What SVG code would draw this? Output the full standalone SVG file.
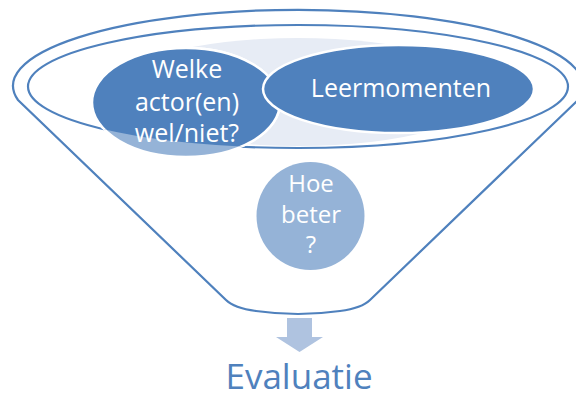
<svg xmlns="http://www.w3.org/2000/svg" width="576" height="401" viewBox="0 0 576 401">
<style>
.line{fill:none;stroke:#4f81bd;stroke-width:2.2}
.dark{fill:#4f81bd}
.lite{fill:#95b3d7}
.edge{stroke:#ffffff;stroke-width:2.5}
.lbl{font-family:"Open Sans","Liberation Sans",sans-serif;fill:#ffffff;text-anchor:middle}
</style>
<defs>
<clipPath id="inner"><ellipse cx="298" cy="86.5" rx="270" ry="61.5"/></clipPath>
</defs>
<rect width="576" height="401" fill="#ffffff"/>
<g id="funnel">
<path class="line" d="M18,100 A285,76 0 1,1 578,100 L370,300 Q362,308 340,311 Q298,317 256,311 Q234,308 226,300 Z"/>
<ellipse cx="298" cy="92" rx="190" ry="54" fill="#e7ecf5" clip-path="url(#inner)"/>
<ellipse class="line" cx="298" cy="86.5" rx="270" ry="61.5"/>
</g>
<g id="node-actoren">
<ellipse class="lite edge" cx="186" cy="102.5" rx="94" ry="54.5"/>
<ellipse class="dark edge" cx="186" cy="102.5" rx="94" ry="54.5" clip-path="url(#inner)"/>
<text class="lbl" font-size="25" x="187" y="78">Welke</text>
<text class="lbl" font-size="25" x="187" y="111">actor(en)</text>
<text class="lbl" font-size="25" x="187" y="142">wel/niet?</text>
</g>
<g id="node-leermomenten">
<ellipse class="dark edge" cx="398.5" cy="89" rx="135.5" ry="44"/>
<text class="lbl" font-size="25" x="401" y="97">Leermomenten</text>
</g>
<g id="node-hoebeter">
<circle class="lite" cx="310.5" cy="216" r="54"/>
<text class="lbl" font-size="24" x="311" y="192">Hoe</text>
<text class="lbl" font-size="24" x="311" y="223">beter</text>
<text class="lbl" font-size="24" x="311" y="253">?</text>
</g>
<g id="connectors">
<path d="M287,318 H312 V337 H323 L299.5,352 L276,337 H287 Z" fill="#afc3e0"/>
</g>
<g id="node-evaluatie">
<text x="299" y="389" font-family="'Open Sans','Liberation Sans',sans-serif" font-size="35" fill="#4f81bd" text-anchor="middle">Evaluatie</text>
</g>
</svg>
